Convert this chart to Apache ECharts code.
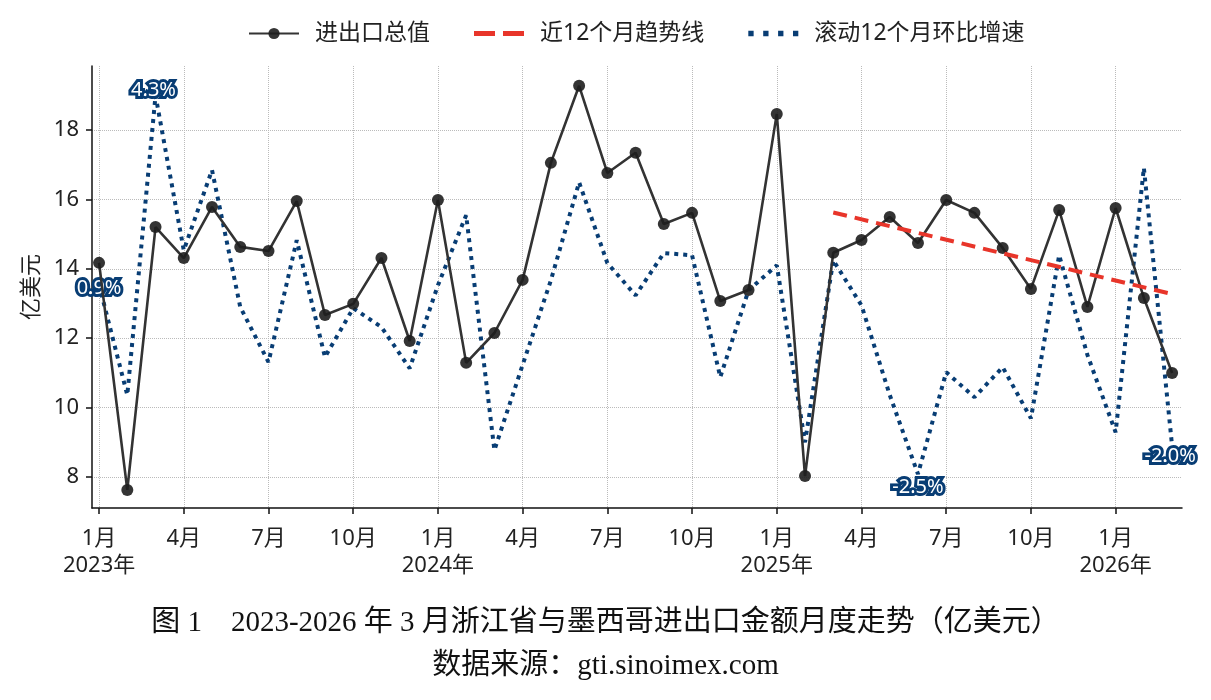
<!DOCTYPE html>
<html>
<head>
<meta charset="utf-8">
<script src="https://cdn.jsdelivr.net/npm/echarts@6/dist/echarts.min.js"></script>
<style>
	html, body { margin: 0; padding: 0; background: #fff; }
	#main { width: 1211px; height: 700px; }
</style>
</head>
<body>
<div id="main"></div>
<script>
(function () {
	// 2023-01 .. 2026-03
	var months = ['1', '2', '3', '4', '5', '6', '7', '8', '9', '10', '11', '12',
		'1', '2', '3', '4', '5', '6', '7', '8', '9', '10', '11', '12',
		'1', '2', '3', '4', '5', '6', '7', '8', '9', '10', '11', '12',
		'1', '2', '3'];
	var years = ['2023', '2024', '2025', '2026'];
	var totalValue = [14.17, 7.63, 15.20, 14.31, 15.78, 14.63, 14.51, 15.95, 12.67, 12.99, 14.31, 11.92,
		15.98, 11.29, 12.15, 13.68, 17.05, 19.27, 16.76, 17.34, 15.29, 15.61, 13.07, 13.39,
		18.46, 8.03, 14.46, 14.83, 15.49, 14.74, 15.98, 15.61, 14.60, 13.42, 15.69, 12.90,
		15.75, 13.16, 11.00];
	var rollingGrowth = [0.9, -1.08, 4.3, 1.52, 2.96, 0.50, -0.49, 1.70, -0.40, 0.48, 0.14, -0.60,
		0.89, 2.15, -2.07, -0.54, 0.98, 2.74, 1.29, 0.71, 1.47, 1.43, -0.76, 0.80,
		1.25, -1.93, 1.34, 0.53, -1.08, -2.5, -0.67, -1.12, -0.58, -1.50, 1.43, -0.36,
		-1.75, 3.00, -2.0];
	// trend over last 12 months: start (2025-03) and end (2026-03)
	var trendIdx = [26, 38];
	var trendValue = [15.62, 13.27];
	var labelIdx = [0, 2, 29, 38];
	var xTicks = [0, 3, 6, 9, 12, 15, 18, 21, 24, 27, 30, 33, 36];
	var yTicks = [8, 10, 12, 14, 16, 18];

	var chart = echarts.init(document.getElementById('main'));
	var font = '"Noto Sans", "Noto Sans CJK SC", sans-serif';
	var serif = '"Liberation Serif", "Noto Sans CJK SC", serif';

	var totalData = totalValue.map(function (v, i) { return [i, v]; });
	var trendData = trendIdx.map(function (x, i) { return [x, trendValue[i]]; });
	var growthData = rollingGrowth.map(function (v, i) {
		var item = { value: [i, v] };
		if (labelIdx.indexOf(i) >= 0) {
			var dy = 4;
			var dx = 0;
			if (i === 2) { dy = -5; dx = -2; }
			if (i === 29) dy = 13;
			if (i === 38) { dy = 10; dx = -2; }
			item.label = {
				show: true,
				position: 'inside',
				offset: [dx, dy],
				formatter: v.toFixed(1) + '%'
			};
		}
		return item;
	});

	var option = {
		animation: false,
		textStyle: { fontFamily: font },
		legend: {
			top: 17,
			left: 243,
			itemWidth: 50,
			itemHeight: 14,
			itemGap: 44,
			textStyle: { fontSize: 23, color: '#222', fontFamily: font, padding: [0, 0, 0, 11] },
			data: [
				{ name: '进出口总值' },
				{ name: '近12个月趋势线', icon: 'path://M0,0h21v5h-21z M29,0h21v5h-21z', itemStyle: { color: '#e8352a' } },
				{ name: '滚动12个月环比增速', icon: 'path://M0,0h5v5h-5z M14,0h5v5h-5z M28,0h5v5h-5z M42,0h5v5h-5z', itemStyle: { color: '#083d74' } }
			]
		},
		grid: { left: 92, right: 29, top: 66, bottom: 192 },
		xAxis: {
			type: 'value',
			min: -0.25,
			max: 38.35,
			axisLine: { onZero: false, lineStyle: { color: '#111', width: 1.5 } },
			axisTick: { show: true, length: 6, customValues: xTicks, lineStyle: { color: '#111', width: 1.5 } },
			axisLabel: {
				customValues: xTicks,
				fontSize: 22,
				color: '#222',
				lineHeight: 27,
				margin: 17,
				formatter: function (val) {
					var i = Math.round(val);
					var s = months[i] + '月';
					if (i % 12 === 0) s += '\n' + years[i / 12] + '年';
					return s;
				}
			},
			splitLine: { show: true, lineStyle: { color: '#bbb', type: 'dotted', width: 1 } }
		},
		yAxis: [{
			type: 'value',
			min: 7.11,
			max: 19.84,
			name: '亿美元',
			nameLocation: 'middle',
			nameGap: 40,
			nameTextStyle: { fontSize: 22, color: '#222' },
			axisLine: { show: true, onZero: false, lineStyle: { color: '#111', width: 1.5 } },
			axisTick: { show: true, length: 6, customValues: yTicks, lineStyle: { color: '#111', width: 1.5 } },
			axisLabel: { customValues: yTicks, fontSize: 22, color: '#222', margin: 13 },
			splitLine: { show: true, lineStyle: { color: '#bbb', type: 'dotted', width: 1 } }
		}, {
			type: 'value',
			min: -3.11,
			max: 4.83,
			show: false,
			splitLine: { show: false }
		}],
		series: [{
			name: '进出口总值',
			type: 'line',
			data: totalData,
			symbol: 'circle',
			symbolSize: 12,
			itemStyle: { color: '#1e1e1e', opacity: 0.9 },
			lineStyle: { color: '#333', width: 2.6 },
			z: 4
		}, {
			name: '近12个月趋势线',
			type: 'line',
			data: trendData,
			symbol: 'none',
			itemStyle: { color: '#e8352a' },
			lineStyle: { color: '#e8352a', width: 4, type: [14, 8] },
			z: 5
		}, {
			name: '滚动12个月环比增速',
			type: 'line',
			yAxisIndex: 1,
			data: growthData,
			symbol: 'circle',
			symbolSize: 0.1,
			showSymbol: true,
			itemStyle: { color: '#083d74' },
			lineStyle: { color: '#083d74', width: 4, type: [4, 5] },
			label: {
				color: '#fff',
				fontSize: 20,
				fontFamily: font,
				textBorderColor: '#083d74',
				textBorderWidth: 6
			},
			emphasis: { disabled: true },
			z: 3
		}],
		graphic: [{
			type: 'text',
			left: 'center',
			top: 609,
			style: {
				text: '图 1　2023-2026 年 3 月浙江省与墨西哥进出口金额月度走势（亿美元）',
				fontSize: 29,
				fill: '#111',
				fontFamily: serif
			}
		}, {
			type: 'text',
			left: 'center',
			top: 652,
			style: {
				text: '数据来源：gti.sinoimex.com',
				fontSize: 29,
				fill: '#111',
				fontFamily: serif
			}
		}]
	};

	chart.setOption(option);

	window.onresize = function () {
		chart.resize();
	};
})();
</script>
</body>
</html>
